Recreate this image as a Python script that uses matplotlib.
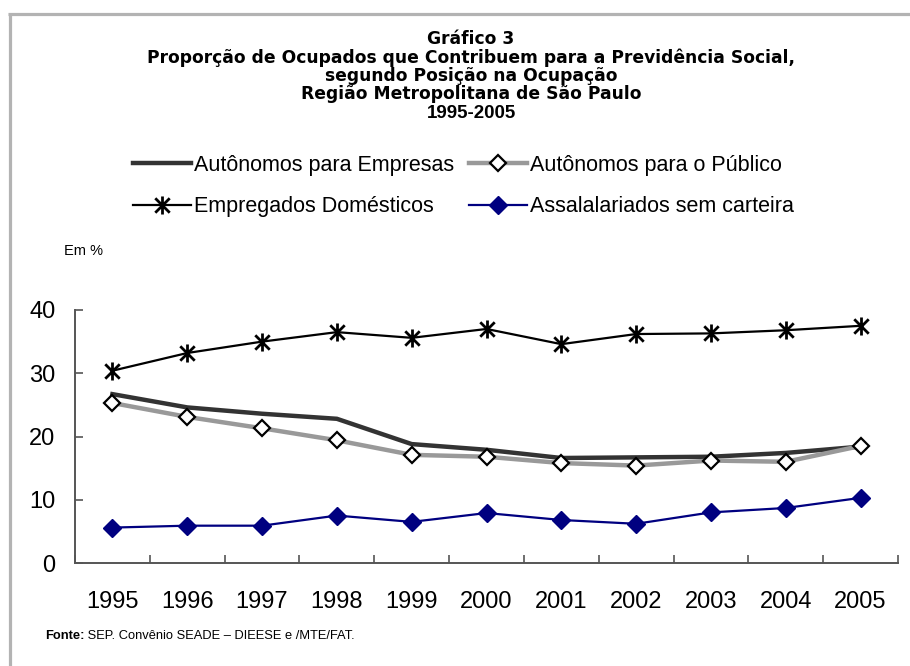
import matplotlib
matplotlib.use("Agg")
import matplotlib.pyplot as plt
from matplotlib import font_manager
from matplotlib.path import Path
from matplotlib.lines import Line2D
import numpy as np

years = ["1995", "1996", "1997", "1998", "1999", "2000", "2001", "2002", "2003", "2004", "2005"]
aut_empresas = [26.7, 24.6, 23.6, 22.8, 18.8, 17.9, 16.6, 16.7, 16.8, 17.4, 18.4]
aut_publico = [25.3, 23.1, 21.3, 19.4, 17.1, 16.8, 15.8, 15.4, 16.2, 16.0, 18.5]
emp_domesticos = [30.4, 33.2, 35.0, 36.5, 35.6, 37.0, 34.6, 36.2, 36.3, 36.8, 37.5]
assalariados = [5.6, 5.9, 5.9, 7.5, 6.5, 7.9, 6.8, 6.2, 8.0, 8.7, 10.3]

series_labels = ["Autônomos para Empresas", "Autônomos para o Público",
                 "Empregados Domésticos", "Assalalariados sem carteira"]
title_lines = ["Gráfico 3",
               "Proporção de Ocupados que Contribuem para a Previdência Social,",
               "segundo Posição na Ocupação",
               "Região Metropolitana de São Paulo"]
title_years = "1995-2005"
unit_label = "Em %"
source_bold = "Fonte:"
source_rest = " SEP. Convênio SEADE – DIEESE e /MTE/FAT."
yticks = [0, 10, 20, 30, 40]


def has_font(name):
    try:
        font_manager.findfont(font_manager.FontProperties(family=name), fallback_to_default=False)
        return True
    except Exception:
        return False

BASE = "Liberation Sans" if has_font("Liberation Sans") else "DejaVu Sans"
plt.rcParams['font.family'] = [BASE, 'DejaVu Sans']

W, H = 910, 666
fig = plt.figure(figsize=(W / 100, H / 100), dpi=100)
fig.patch.set_facecolor("white")

def fx(px):
    return px / W

def fy(py):
    return 1 - py / H

# frame lines
border = "#b3b3b3"
fig.add_artist(Line2D([fx(8), fx(910)], [fy(13.5), fy(13.5)], color=border, lw=2.3,
                      transform=fig.transFigure, solid_capstyle="butt"))
fig.add_artist(Line2D([fx(9.5), fx(9.5)], [fy(12.5), fy(666)], color=border, lw=2.3,
                      transform=fig.transFigure, solid_capstyle="butt"))

ax_l, ax_r, ax_t, ax_b = 75, 898, 310, 563
ax = fig.add_axes([fx(ax_l), fy(ax_b), fx(ax_r - ax_l), (ax_b - ax_t) / H])

x = np.arange(len(years))

star_path = Path([(0, -1), (0, 1), (-0.8, -0.8), (0.8, 0.8), (-0.8, 0.8), (0.8, -0.8)],
                 [Path.MOVETO, Path.LINETO, Path.MOVETO, Path.LINETO, Path.MOVETO, Path.LINETO])

l1, = ax.plot(x, aut_empresas, color="#333333", lw=3.2, solid_joinstyle="miter",
              label=series_labels[0], zorder=3)
l2, = ax.plot(x, aut_publico, color="#999999", lw=3.2, marker="D", ms=8.5,
              mfc="white", mec="black", mew=1.6, label=series_labels[1], zorder=4)
l3, = ax.plot(x, emp_domesticos, color="black", lw=1.6, marker=star_path, ms=13,
              mec="black", mew=2.0, label=series_labels[2], zorder=3)
l4, = ax.plot(x, assalariados, color="#000080", lw=1.6, marker="D", ms=9,
              mfc="#000080", mec="#000080", label=series_labels[3], zorder=3)

ax.set_xlim(-0.5, len(years) - 0.5)
ax.set_ylim(0, 40)
ax.set_yticks(yticks)
ax.set_yticklabels([str(v) for v in yticks])
ax.set_xticks(x)
ax.set_xticklabels(years)
ax.set_xticks(np.arange(-0.5, len(years)), minor=True)

for s in ["top", "right"]:
    ax.spines[s].set_visible(False)
for s in ["left", "bottom"]:
    ax.spines[s].set_color("#555555")
    ax.spines[s].set_linewidth(1.4)

ax.tick_params(axis="x", which="major", length=0, labelsize=17, pad=20, colors="black")
ax.tick_params(axis="x", which="minor", direction="in", length=6, width=1.2, color="#555555")
ax.tick_params(axis="y", direction="in", length=6, width=1.2, color="#555555",
               labelsize=17, pad=14)
ax.patch.set_alpha(0)

# Title (wide bold face to mimic the letter-spaced original)
TFAM = ["DejaVu Sans"]
fig.canvas.draw()
renderer = fig.canvas.get_renderer()
title_cx = 471
title_y = [39.5, 58, 76, 94]
probe = fig.text(0, 0, title_lines[1], fontsize=12, fontweight="bold", family=TFAM)
w12 = probe.get_window_extent(renderer).width
probe.remove()
tsize = 12 * 645.0 / w12
for ty, t in zip(title_y, title_lines):
    fig.text(fx(title_cx), fy(ty), t, ha="center", va="center", fontsize=tsize,
             fontweight="bold", family=TFAM)
fig.text(fx(title_cx), fy(113), title_years, ha="center", va="center", fontsize=13.5,
         fontweight="bold")

# Legend (rows: l1,l2 / l3,l4)
leg = fig.legend(handles=[l1, l3, l2, l4],
                 labels=[series_labels[0], series_labels[2], series_labels[1], series_labels[3]],
                 ncol=2, loc="upper left", bbox_to_anchor=(fx(133), fy(155)),
                 frameon=False, fontsize=15.5, handlelength=2.7, handletextpad=0.12,
                 columnspacing=0.7, labelspacing=0.95, borderaxespad=0, borderpad=0)

fig.text(fx(64), fy(251), unit_label, ha="left", va="center", fontsize=10.5)

# Source
t1 = fig.text(fx(45), fy(636), source_bold, ha="left", va="center", fontsize=9.3,
              fontweight="bold")
fig.canvas.draw()
bb = t1.get_window_extent()
fig.text(bb.x1 / W, fy(636), source_rest, ha="left", va="center", fontsize=9.3)

fig.savefig("out.png", dpi=100, facecolor="white")
